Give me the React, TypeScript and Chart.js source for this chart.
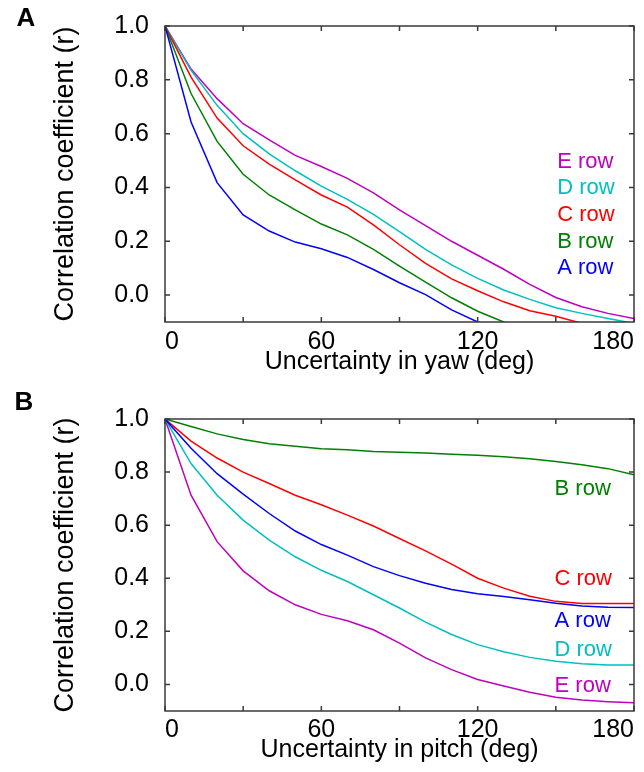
import React, { useEffect, useRef } from 'react';
import { Chart, registerables } from 'chart.js';

Chart.register(...registerables);

// ---------- data ----------
const ANGLES = [0, 10, 20, 30, 40, 50, 60, 70, 80, 90, 100, 110, 120, 130, 140, 150, 160, 170, 180];

const ROW_NAMES = ['A row', 'B row', 'C row', 'D row', 'E row'];
const ROW_COLORS = ['#0000ff', '#008000', '#ff0000', '#00bfbf', '#bf00bf'];

// Panel A: uncertainty in yaw
const YAW_A = [1.0, 0.643, 0.418, 0.298, 0.238, 0.197, 0.172, 0.14, 0.095, 0.046, 0.002, -0.055, -0.1, -0.13, -0.16, -0.18, -0.2, -0.21, -0.22];
const YAW_B = [1.0, 0.749, 0.571, 0.449, 0.372, 0.317, 0.264, 0.224, 0.17, 0.108, 0.048, -0.01, -0.06, -0.1, -0.13, -0.16, -0.18, -0.2, -0.21];
const YAW_C = [1.0, 0.81, 0.658, 0.555, 0.487, 0.428, 0.372, 0.327, 0.261, 0.187, 0.118, 0.06, 0.016, -0.025, -0.058, -0.079, -0.105, -0.12, -0.13];
const YAW_D = [1.0, 0.835, 0.705, 0.6, 0.525, 0.462, 0.405, 0.356, 0.3, 0.236, 0.17, 0.112, 0.062, 0.019, -0.016, -0.047, -0.068, -0.087, -0.105];
const YAW_E = [1.0, 0.84, 0.73, 0.637, 0.577, 0.519, 0.478, 0.434, 0.38, 0.317, 0.258, 0.2, 0.148, 0.096, 0.04, -0.009, -0.043, -0.068, -0.087];

// Panel B: uncertainty in pitch
const PITCH_A = [1.0, 0.89, 0.794, 0.717, 0.644, 0.578, 0.527, 0.487, 0.444, 0.41, 0.381, 0.358, 0.342, 0.331, 0.319, 0.306, 0.296, 0.291, 0.29];
const PITCH_B = [1.0, 0.972, 0.944, 0.923, 0.907, 0.897, 0.888, 0.884, 0.878, 0.875, 0.872, 0.867, 0.863, 0.858, 0.85, 0.84, 0.828, 0.813, 0.79];
const PITCH_C = [1.0, 0.917, 0.853, 0.8, 0.757, 0.713, 0.677, 0.638, 0.597, 0.55, 0.503, 0.453, 0.4, 0.363, 0.332, 0.313, 0.305, 0.305, 0.305];
const PITCH_D = [1.0, 0.832, 0.713, 0.619, 0.544, 0.481, 0.43, 0.388, 0.338, 0.288, 0.235, 0.188, 0.15, 0.123, 0.102, 0.087, 0.078, 0.073, 0.073];
const PITCH_E = [1.0, 0.713, 0.538, 0.428, 0.353, 0.3, 0.264, 0.24, 0.206, 0.156, 0.1, 0.056, 0.019, -0.006, -0.029, -0.048, -0.059, -0.065, -0.069];

const X_TICKS = [0, 30, 60, 90, 120, 150, 180];
const X_LABELED = [0, 60, 120, 180];
const Y_TICKS = [0.0, 0.2, 0.4, 0.6, 0.8, 1.0];

// Row-label anchor points in data units (x in deg, y in r)
const YAW_LABEL_X = 150.5;
const YAW_LABEL_Y = [0.1, 0.199, 0.298, 0.397, 0.496]; // A..E
const PITCH_LABEL_X = 149.5;
const PITCH_LABEL_Y = [0.238, 0.738, 0.397, 0.131, -0.006]; // A..E

const FONT = '"Liberation Sans", Arial, Helvetica, sans-serif';

const framePlugin = {
  id: 'frame',
  afterDatasetsDraw(chart: any) {
    const { ctx, chartArea, scales } = chart;
    const { left, right, top, bottom } = chartArea;
    const xs = scales.x;
    const ys = scales.y;
    const tl = 5;
    ctx.save();
    ctx.strokeStyle = '#3a3a3a';
    ctx.lineWidth = 1.5;
    ctx.beginPath();
    for (const t of xs.ticks) {
      const px = xs.getPixelForValue(t.value);
      ctx.moveTo(px, bottom);
      ctx.lineTo(px, bottom - tl);
      ctx.moveTo(px, top);
      ctx.lineTo(px, top + tl);
    }
    for (const t of ys.ticks) {
      const py = ys.getPixelForValue(t.value);
      ctx.moveTo(left, py);
      ctx.lineTo(left + tl, py);
      ctx.moveTo(right, py);
      ctx.lineTo(right - tl, py);
    }
    ctx.stroke();
    ctx.strokeRect(left, top, right - left, bottom - top);
    ctx.restore();
  },
};

const labelPlugin = {
  id: 'rowLabels',
  afterDraw(chart: any, _args: any, opts: any) {
    const { ctx, scales } = chart;
    ctx.save();
    ctx.textAlign = 'left';
    ctx.textBaseline = 'middle';
    ctx.font = `22px ${FONT}`;
    ROW_NAMES.forEach((name, i) => {
      ctx.fillStyle = ROW_COLORS[i];
      ctx.fillText(name, scales.x.getPixelForValue(opts.x), scales.y.getPixelForValue(opts.ys[i]));
    });
    ctx.fillStyle = '#000';
    ctx.font = `bold 26px ${FONT}`;
    ctx.textAlign = 'center';
    ctx.fillText(opts.panel, opts.panelX, opts.panelY);
    ctx.restore();
  },
};

function makeConfig(
  series: number[][],
  xTitle: string,
  labelX: number,
  labelYs: number[],
  panel: string,
  panelPos: [number, number],
  padTop: number,
  axisHeight: number,
  xTickPad: number,
  xTitlePad: number
): any {
  return {
    type: 'line',
    data: {
      datasets: series.map((vals, i) => ({
        label: ROW_NAMES[i],
        data: ANGLES.map((a, j) => ({ x: a, y: vals[j] })),
        borderColor: ROW_COLORS[i],
        backgroundColor: ROW_COLORS[i],
        borderWidth: 1.5,
        pointRadius: 0,
        fill: false,
        tension: 0,
      })),
    },
    options: {
      animation: false,
      responsive: false,
      layout: { padding: { top: padTop, right: 10, left: 0, bottom: 0 } },
      plugins: {
        legend: { display: false },
        tooltip: { enabled: false },
        rowLabels: { x: labelX, ys: labelYs, panel, panelX: panelPos[0], panelY: panelPos[1] },
      },
      scales: {
        x: {
          type: 'linear',
          min: 0,
          max: 180,
          afterBuildTicks: (s: any) => {
            s.ticks = X_TICKS.map((v) => ({ value: v }));
          },
          afterFit: (s: any) => {
            s.height = axisHeight;
            s.paddingLeft = 0;
            s.paddingRight = 0;
          },
          grid: { display: false, drawTicks: false },
          border: { display: false },
          ticks: {
            autoSkip: false,
            maxRotation: 0,
            minRotation: 0,
            align: 'inner',
            padding: xTickPad,
            color: '#000',
            font: { family: FONT, size: 25, lineHeight: 1 },
            callback: (v: number) => (X_LABELED.includes(v) ? String(v) : ''),
          },
          title: {
            display: true,
            text: xTitle,
            color: '#000',
            font: { family: FONT, size: 25, lineHeight: 1 },
            padding: { top: 0, bottom: xTitlePad },
          },
        },
        y: {
          type: 'linear',
          min: -0.1,
          max: 1.0,
          afterBuildTicks: (s: any) => {
            s.ticks = Y_TICKS.map((v) => ({ value: v }));
          },
          afterFit: (s: any) => {
            s.width = 165;
            s.paddingTop = 0;
            s.paddingBottom = 0;
          },
          grid: { display: false, drawTicks: false },
          border: { display: false },
          ticks: {
            padding: 16,
            color: '#000',
            font: { family: FONT, size: 25, lineHeight: 1 },
            callback: (v: number) => v.toFixed(1),
          },
          title: {
            display: true,
            text: 'Correlation coefficient (r)',
            color: '#000',
            font: { family: FONT, size: 27, lineHeight: 1 },
            padding: { top: 52, bottom: 0 },
          },
        },
      },
    },
    plugins: [framePlugin, labelPlugin],
  };
}

function Panel({ config }: { config: any }) {
  const ref = useRef<HTMLCanvasElement | null>(null);
  useEffect(() => {
    if (!ref.current) return;
    const chart = new Chart(ref.current, config);
    return () => chart.destroy();
  }, [config]);
  return <canvas ref={ref} width={644} height={386} style={{ display: 'block', width: 644, height: 386 }} />;
}

const CONFIG_A = makeConfig(
  [YAW_A, YAW_B, YAW_C, YAW_D, YAW_E],
  'Uncertainty in yaw (deg)',
  YAW_LABEL_X,
  YAW_LABEL_Y,
  'A',
  [26, 19],
  26,
  64,
  7.5,
  11.5
);

const CONFIG_B = makeConfig(
  [PITCH_A, PITCH_B, PITCH_C, PITCH_D, PITCH_E],
  'Uncertainty in pitch (deg)',
  PITCH_LABEL_X,
  PITCH_LABEL_Y,
  'B',
  [24, 17],
  33,
  61,
  6.5,
  9.5
);

export default function App() {
  return (
    <div style={{ position: 'absolute', left: 0, top: 0, width: 644, height: 772, background: '#fff' }}>
      <Panel config={CONFIG_A} />
      <Panel config={CONFIG_B} />
    </div>
  );
}
